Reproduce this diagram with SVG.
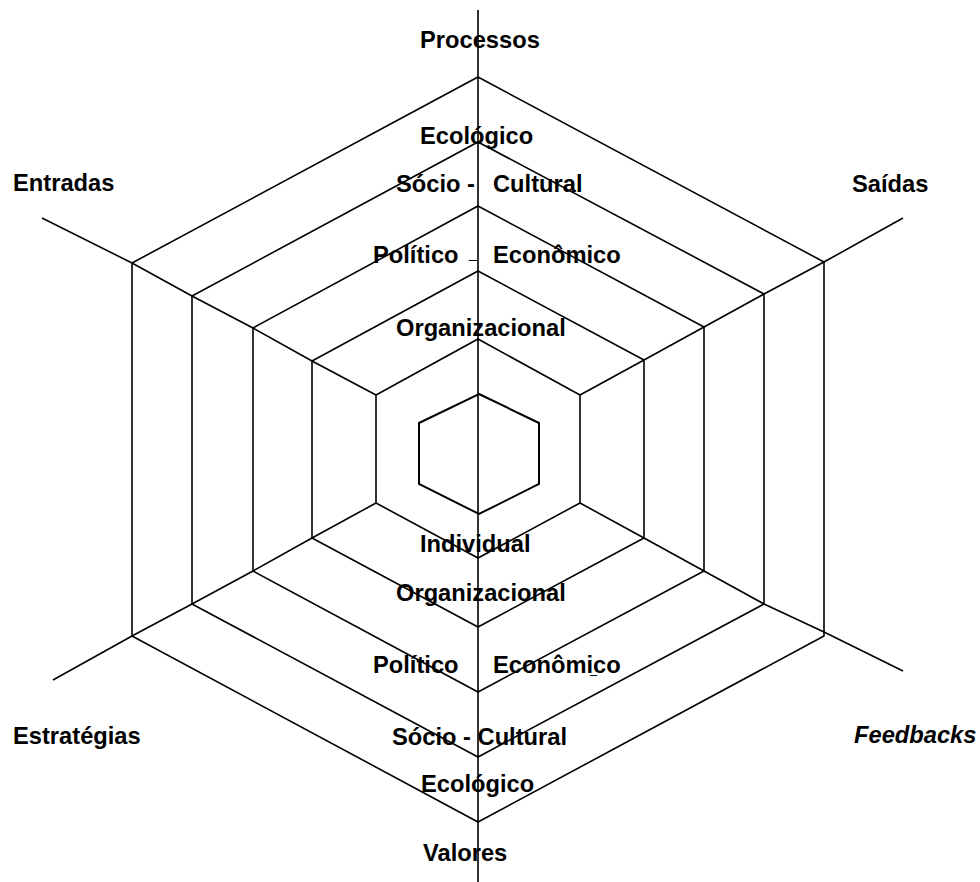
<svg xmlns="http://www.w3.org/2000/svg" width="980" height="882" viewBox="0 0 980 882">
<style>
.ln{fill:none;stroke:#000;stroke-width:1.6;stroke-linejoin:miter}
.in{fill:none;stroke:#000;stroke-width:2}
.t{font-family:"Liberation Sans",Arial,sans-serif;font-weight:bold;font-size:23.7px;fill:#000}
.it{font-style:italic}
</style>
<rect width="980" height="882" fill="#fff"/>
<g id="hexagons">
<polygon id="hex1" class="ln" points="478,77 824,262 824,636 478,822 132,636 132,263"/>
<polygon id="hex2" class="ln" points="478,142 764,294 764,604 478,757 192,604 192,296"/>
<polygon id="hex3" class="ln" points="478,206 704,327 704,571 478,692 253,571 253,328"/>
<polygon id="hex4" class="ln" points="478,271 644,360 644,538 478,627 312,538 312,361"/>
<polygon id="hex5" class="ln" points="478,339 580,395 580,503 478,558 376,503 376,395"/>
<polygon id="core" class="in" points="479,394 539,423 539,484 479,514 419,484 419,423"/>
</g>
<g id="connectors">
<line class="ln" x1="478" y1="10" x2="478" y2="882"/>
<polyline class="ln" points="42,218 132,263 192,296 253,328 312,361 376,395"/>
<polyline class="ln" points="903,218 824,262 764,294 704,327 644,360 580,395"/>
<polyline class="ln" points="53,680 132,636 192,604 253,571 312,538 376,503"/>
<polyline class="ln" points="903,671 824,632 764,604 704,571 644,538 580,503"/>
</g>
<g id="axis-labels">
<text class="t" x="420" y="48">Processos</text>
<text class="t" x="13" y="191">Entradas</text>
<text class="t" x="852" y="192">Saídas</text>
<text class="t" x="13" y="744">Estratégias</text>
<text class="t it" x="854" y="743">Feedbacks</text>
<text class="t" x="423" y="861">Valores</text>
</g>
<g id="upper-labels">
<text class="t" x="420" y="144">Ecológico</text>
<text class="t"><tspan x="396" y="192">Sócio -</tspan><tspan x="493" y="192">Cultural</tspan></text>
<text class="t" x="373" y="263">Político</text>
<text class="t" x="469" y="258" textLength="8" lengthAdjust="spacingAndGlyphs">_</text>
<text class="t" x="493" y="263">Econômico</text>
<text class="t" x="396" y="336">Organizacional</text>
</g>
<g id="lower-labels">
<text class="t" x="420" y="552">Individual</text>
<text class="t" x="396" y="601">Organizacional</text>
<text class="t" x="373" y="673">Político</text>
<text class="t" x="493" y="673">Econômico</text>
<text class="t" x="590" y="673" textLength="7" lengthAdjust="spacingAndGlyphs">_</text>
<text class="t" x="392" y="745">Sócio - Cultural</text>
<text class="t" x="421" y="792">Ecológico</text>
</g>
</svg>
